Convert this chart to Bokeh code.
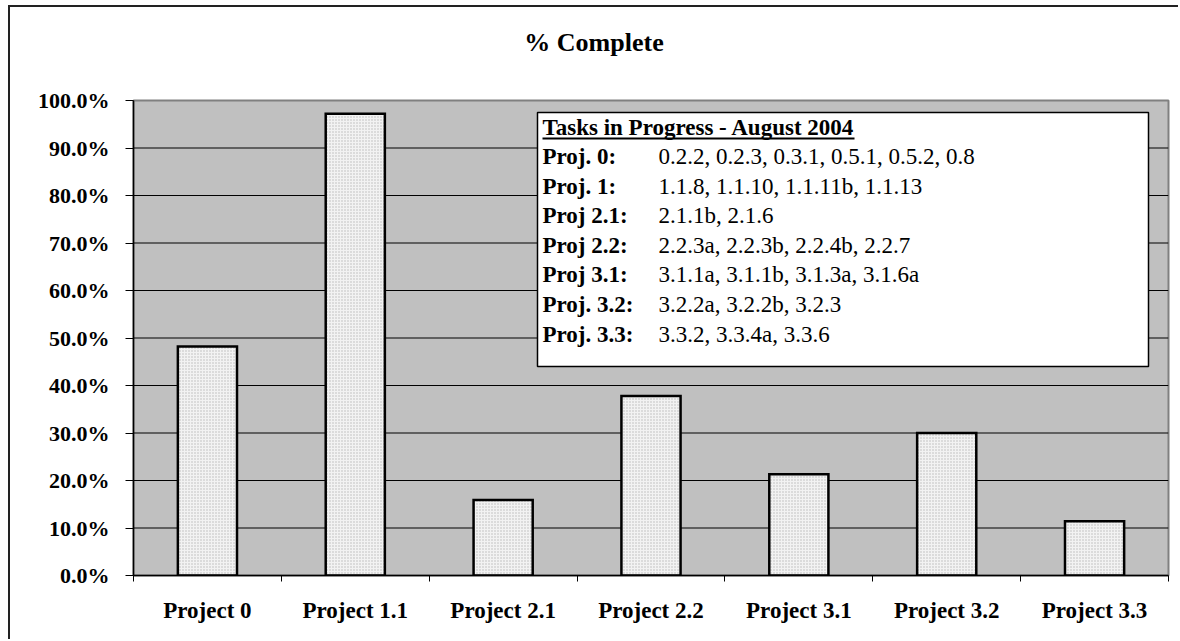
from bokeh.plotting import figure
from bokeh.models import Range1d, LinearAxis, FixedTicker, NumeralTickFormatter, Div
from bokeh.layouts import column
from bokeh.embed import file_html
from bokeh.resources import INLINE
from bokeh.core.properties import value

# ---------------- data ----------------
projects = ["Project 0", "Project 1.1", "Project 2.1", "Project 2.2",
            "Project 3.1", "Project 3.2", "Project 3.3"]
pct_complete = [0.482, 0.972, 0.159, 0.378, 0.213, 0.300, 0.114]
y_ticks = [0.0, 0.1, 0.2, 0.3, 0.4, 0.5, 0.6, 0.7, 0.8, 0.9, 1.0]

chart_title = "% Complete"
box_title = "Tasks in Progress - August 2004"
box_names = ["Proj. 0:", "Proj. 1:", "Proj 2.1:", "Proj 2.2:", "Proj 3.1:",
             "Proj. 3.2:", "Proj. 3.3:"]
box_tasks = ["0.2.2, 0.2.3, 0.3.1, 0.5.1, 0.5.2, 0.8",
             "1.1.8, 1.1.10, 1.1.11b, 1.1.13",
             "2.1.1b, 2.1.6",
             "2.2.3a, 2.2.3b, 2.2.4b, 2.2.7",
             "3.1.1a, 3.1.1b, 3.1.3a, 3.1.6a",
             "3.2.2a, 3.2.2b, 3.2.3",
             "3.3.2, 3.3.4a, 3.3.6"]

# ---------------- layout ----------------
FONT = "Liberation Serif"
OFF_X, OFF_Y, BW = 8, 5, 2           # page offset of the outer frame, border width
FX0, FY0, FX1, FY1 = 133, 100, 1168, 575   # plot frame in page pixels
W = 1168
TITLE_H = 72                          # height of the title strip
H = 632 - TITLE_H
ML = FX0 - OFF_X - BW
MT = FY0 - OFF_Y - BW - TITLE_H
MR = (OFF_X + BW + W) - FX1
MB = (OFF_Y + BW + TITLE_H + H) - FY1
frame_w = FX1 - FX0
frame_h = FY1 - FY0
ncat = len(projects)

def px_x(px):
    return (px - FX0) / frame_w * ncat
def px_y(py):
    return 1.0 - (py - FY0) / frame_h

p = figure(width=W, height=H, output_backend="svg", toolbar_location=None,
           x_range=Range1d(0, ncat), y_range=Range1d(0, 1.0),
           x_axis_type=None, y_axis_type=None,
           min_border_left=ML, min_border_right=MR,
           min_border_top=MT, min_border_bottom=MB)
p.background_fill_color = "#C0C0C0"
p.border_fill_color = "white"
p.outline_line_color = "#808080"
p.outline_line_width = 2

# chart title strip, centred over the chart area
title_center = 594
title_div = Div(text=chart_title, width=2 * (title_center - OFF_X - BW), height=TITLE_H,
                margin=0,
                styles={"font-family": FONT, "font-weight": "bold", "font-size": "26px",
                        "color": "black", "text-align": "center",
                        "line-height": f"{TITLE_H}px", "background": "white"})

# y axis
yax = LinearAxis(ticker=FixedTicker(ticks=y_ticks),
                 formatter=NumeralTickFormatter(format="0.0%"))
yax.axis_line_color = "black"
yax.axis_line_width = 1.5
yax.major_tick_out = 8
yax.major_tick_in = 0
yax.major_tick_line_color = "black"
yax.minor_tick_line_color = None
yax.major_label_standoff = 16
yax.major_label_text_font = FONT
yax.major_label_text_font_style = "bold"
yax.major_label_text_font_size = "22px"
yax.major_label_text_color = "black"
p.add_layout(yax, "left")

# x axis: labels at category centres, minor ticks at category boundaries
centers = [i + 0.5 for i in range(ncat)]
xax = LinearAxis(ticker=FixedTicker(ticks=centers, minor_ticks=list(range(ncat + 1))))
xax.major_label_overrides = {c: name for c, name in zip(centers, projects)}
xax.axis_line_color = "black"
xax.axis_line_width = 1.5
xax.major_tick_line_color = None
xax.major_tick_out = 0
xax.major_tick_in = 0
xax.minor_tick_line_color = "black"
xax.minor_tick_out = 6
xax.minor_tick_in = 0
xax.major_label_standoff = 16
xax.major_label_text_font = FONT
xax.major_label_text_font_style = "bold"
xax.major_label_text_font_size = "23px"
xax.major_label_text_color = "black"
p.add_layout(xax, "below")

# grid lines
p.ygrid.visible = False
p.xgrid.visible = False
p.segment(x0=[0] * 9, x1=[ncat] * 9, y0=y_ticks[1:10], y1=y_ticks[1:10],
          line_color="black", line_width=1)

# bars
p.vbar(x=centers, top=pct_complete, width=0.4, bottom=0,
       fill_color="#F2F2F2", hatch_pattern="dot", hatch_color="#B8B8B8",
       hatch_scale=3, hatch_weight=0.6,
       line_color="black", line_width=2.5, line_join="miter")

# text box (drawn as a glyph so texts can go on top)
p.quad(left=[px_x(537)], right=[px_x(1148)], top=[px_y(112)], bottom=[px_y(366)],
       fill_color="white", line_color="black", line_width=1.5)

row_y = [px_y(156 + 29.6 * i) for i in range(len(box_names))]
p.text(x=[px_x(542)], y=[px_y(127)], text=[box_title],
       text_font=value(FONT), text_font_style="bold", text_font_size="23px",
       text_baseline="middle", text_align="left", text_color="black")
p.segment(x0=[px_x(542)], x1=[px_x(854)], y0=[px_y(138)], y1=[px_y(138)],
          line_color="black", line_width=2)
p.text(x=[px_x(542)] * len(box_names), y=row_y, text=box_names,
       text_font=value(FONT), text_font_style="bold", text_font_size="23px",
       text_baseline="middle", text_align="left", text_color="black")
p.text(x=[px_x(658)] * len(box_tasks), y=row_y, text=box_tasks,
       text_font=value(FONT), text_font_style="normal", text_font_size="23px",
       text_baseline="middle", text_align="left", text_color="black")

layout = column(title_div, p, spacing=0,
                styles={"margin-left": f"{OFF_X}px", "margin-top": f"{OFF_Y}px",
                        "border-left": f"{BW}px solid #222",
                        "border-top": f"{BW}px solid #222"})

open("out.html", "w").write(file_html(layout, INLINE))
